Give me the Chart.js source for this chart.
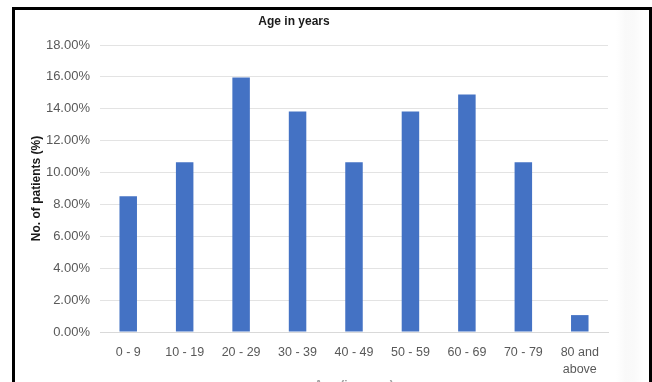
<!DOCTYPE html>
<html>
<head>
<meta charset="utf-8">
<script src="https://cdn.jsdelivr.net/npm/chart.js@4/dist/chart.umd.min.js"></script>
<style>
  html, body { margin: 0; padding: 0; background: #fff; overflow: hidden; }
  #wrap { position: relative; width: 652px; height: 382px; overflow: hidden; }
  #frame {
    position: absolute; left: 12px; top: 7px; width: 634px; height: 400px;
    border-left: 3px solid #000; border-top: 3px solid #000; border-right: 3px solid #000;
  }
  #shade {
    position: absolute; left: 616px; top: 10px; width: 28px; height: 372px;
    background: linear-gradient(to right, #ffffff, #f9f9f9 35%, #fafafa 65%, #ffffff);
  }
  #c { position: absolute; left: 0; top: 0; }
</style>
</head>
<body>
<div id="wrap">
  <div id="frame"></div>
  <div id="shade"></div>
  <canvas id="c" width="652" height="400"></canvas>
</div>
<script>
// Share of patients by age group
const chartTitle = 'Age in years';
const ageGroups = ['0 - 9', '10 - 19', '20 - 29', '30 - 39', '40 - 49', '50 - 59', '60 - 69', '70 - 79', ['80 and', 'above']];
const patientShare = [8.51, 10.64, 15.96, 13.83, 10.64, 13.83, 14.89, 10.64, 1.06];
const yTicks = [0, 2, 4, 6, 8, 10, 12, 14, 16, 18];
const yTitle = 'No. of patients (%)';
const xTitle = 'Age (in years)';

const FONT = '"Liberation Sans", Arial, sans-serif';

// Chart heading, drawn centred over the figure
const headingPlugin = {
  id: 'heading',
  afterDraw(chart) {
    const ctx = chart.ctx;
    ctx.save();
    ctx.font = 'bold 12px ' + FONT;
    ctx.fillStyle = '#1a1a1a';
    ctx.textAlign = 'center';
    ctx.textBaseline = 'middle';
    ctx.fillText(chartTitle, 294, 22);
    ctx.restore();
  }
};

new Chart(document.getElementById('c'), {
  type: 'bar',
  data: {
    labels: ageGroups,
    datasets: [{
      data: patientShare,
      backgroundColor: '#4472C4',
      borderWidth: 0,
      barPercentage: 0.31,
      categoryPercentage: 1.0
    }]
  },
  options: {
    responsive: false,
    animation: false,
    devicePixelRatio: 1,
    layout: { padding: { left: 29, right: 44, top: 45, bottom: 0 } },
    plugins: { legend: { display: false }, tooltip: { enabled: false } },
    scales: {
      x: {
        grid: { display: false, drawTicks: false },
        border: { display: true, color: '#d9d9d9', width: 1 },
        ticks: {
          color: '#595959',
          font: { family: FONT, size: 12.5, lineHeight: 1.35 },
          padding: 12,
          maxRotation: 0,
          autoSkip: false
        },
        title: {
          display: true,
          text: xTitle,
          color: '#a0a0a0',
          font: { family: FONT, size: 12, weight: 'bold' },
          padding: { top: 0, bottom: 7 }
        },
        afterFit(scale) { scale.height = 68; }
      },
      y: {
        min: 0,
        max: 18,
        afterBuildTicks(scale) { scale.ticks = yTicks.map(v => ({ value: v })); },
        grid: { color: '#e3e3e3', lineWidth: 1, drawTicks: false },
        border: { display: false },
        ticks: {
          color: '#595959',
          font: { family: FONT, size: 13 },
          padding: 10,
          callback: v => v.toFixed(2) + '%'
        },
        title: {
          display: true,
          text: yTitle,
          color: '#1a1a1a',
          font: { family: FONT, size: 12, weight: 'bold' },
          padding: { top: 0, bottom: 0 }
        },
        afterFit(scale) { scale.width = 71; }
      }
    }
  },
  plugins: [headingPlugin]
});
</script>
</body>
</html>
